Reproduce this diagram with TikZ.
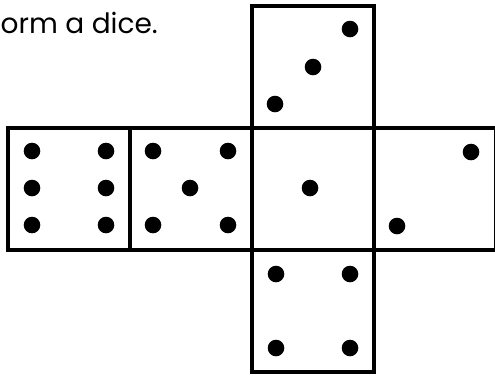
\documentclass[tikz,border=0pt]{standalone}
\usepackage{fontspec}
\setmainfont{Poppins}
\usetikzlibrary{positioning}

\begin{document}
\begin{tikzpicture}[x=1pt,y=-1pt,node distance=0pt,
    face/.style={draw, line width=4.5pt, minimum size=122pt, inner sep=0pt, outer sep=0pt},
    pip/.style={fill=black}]

    \useasboundingbox (0,0) rectangle (495,376);

    % Title
    \node[anchor=base west, inner sep=0pt, font=\fontsize{28}{32}\selectfont] (title) at (0.5,33) {orm a dice.};

    % Faces of the net
    \node[face] (one) at (313,189) {};
    \node[face, above=of one] (three) {};
    \node[face, below=of one] (four) {};
    \node[face, left=of one] (five) {};
    \node[face, left=of five] (six) {};
    \node[face, right=of one] (two) {};

    % Pips
    \fill[pip] ([shift={(-3,-1)}]one.center) circle[radius=8.3pt];
    \foreach \dx/\dy in {36/-37, -38/37}
        \fill[pip] ([shift={(\dx,\dy)}]two.center) circle[radius=8.3pt];
    \foreach \dx/\dy in {-38/37, 0/0, 37/-38}
        \fill[pip] ([shift={(\dx,\dy)}]three.center) circle[radius=8.3pt];
    \foreach \dx/\dy in {-37/-37, 37/-37, -37/37, 37/37}
        \fill[pip] ([shift={(\dx,\dy)}]four.center) circle[radius=8.3pt];
    \foreach \dx/\dy in {-38/-38, 37/-38, -1/-1, -38/36, 37/36}
        \fill[pip] ([shift={(\dx,\dy)}]five.center) circle[radius=8.3pt];
    \foreach \dx in {-37,37}
        \foreach \dy in {-38,-1,36}
            \fill[pip] ([shift={(\dx,\dy)}]six.center) circle[radius=8.3pt];

\end{tikzpicture}
\end{document}
